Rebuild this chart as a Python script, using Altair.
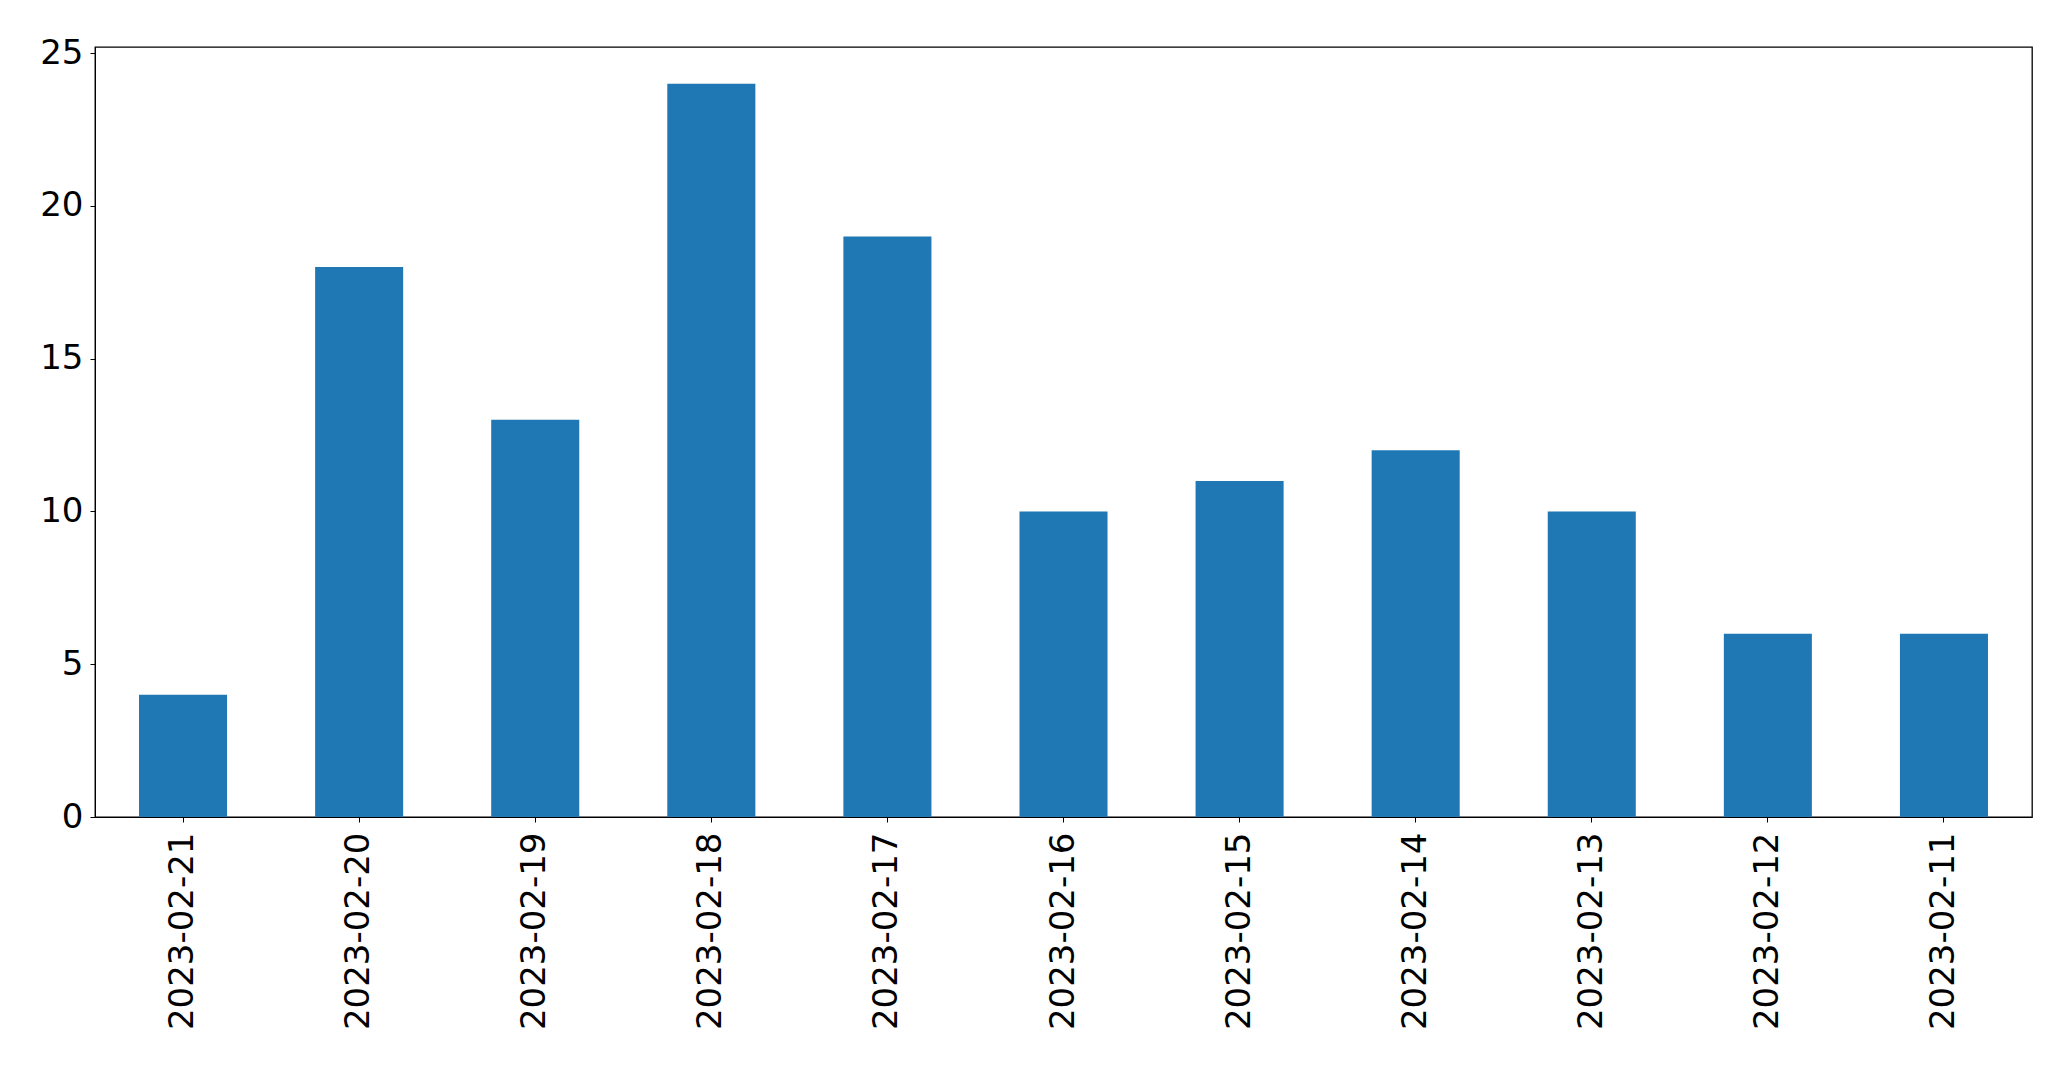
import altair as alt
import pandas as pd

dates = ["2023-02-21", "2023-02-20", "2023-02-19", "2023-02-18", "2023-02-17",
         "2023-02-16", "2023-02-15", "2023-02-14", "2023-02-13", "2023-02-12",
         "2023-02-11"]
counts = [4, 18, 13, 24, 19, 10, 11, 12, 10, 6, 6]

df = pd.DataFrame({"date": dates, "count": counts})

chart = alt.Chart(df).mark_bar(color="#1f77b4").encode(
    x=alt.X("date:N", sort=dates, title=None,
            scale=alt.Scale(paddingInner=0.5, paddingOuter=0.25),
            axis=alt.Axis(labelAngle=270, labelFontSize=34, labelFont="DejaVu Sans",
                          labelColor="black", tickColor="black", domainColor="black",
                          tickSize=5, labelPadding=10, labelBaseline="middle",
                          labelAlign="right", labelLimit=0)),
    y=alt.Y("count:Q", title=None,
            scale=alt.Scale(domain=[0, 25.2], nice=False, zero=True),
            axis=alt.Axis(values=[0, 5, 10, 15, 20, 25], grid=False, labelFontSize=34,
                          labelFont="DejaVu Sans", labelColor="black", tickColor="black",
                          domainColor="black", tickSize=5, labelPadding=7)),
).properties(
    width=1937, height=770,
    autosize=alt.AutoSizeParams(type="none"),
    padding={"left": 95, "top": 47, "right": 39, "bottom": 252},
    background="white",
).configure_view(stroke="black", strokeWidth=1.3)

chart.save("out.html", embed_options={"renderer": "svg", "actions": False})
